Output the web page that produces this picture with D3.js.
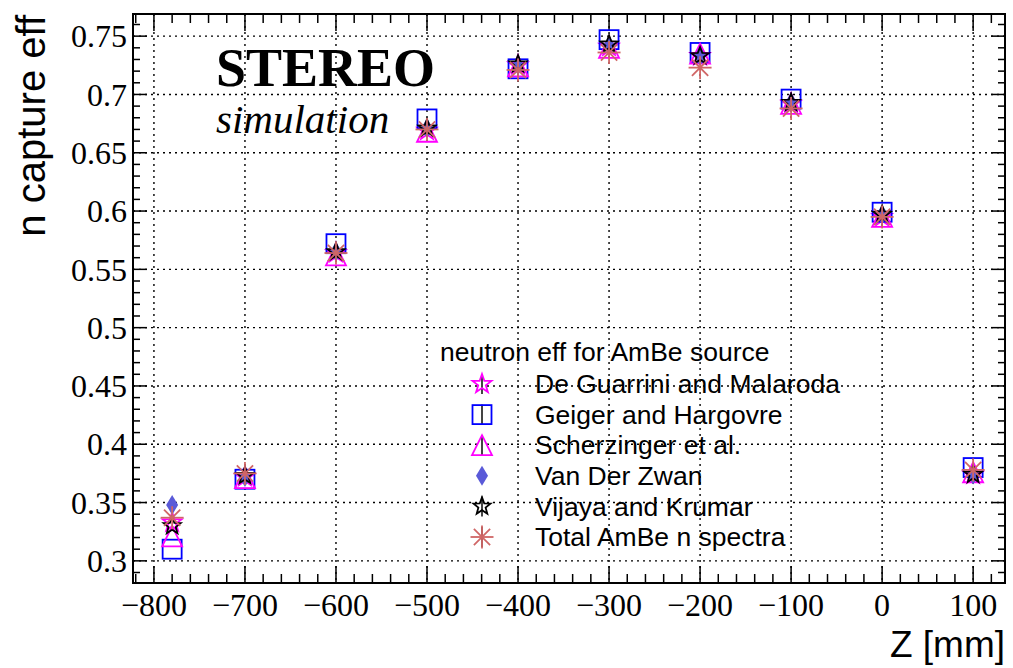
<!DOCTYPE html>
<html lang="en">
  <head>
    <meta charset="utf-8" />
    <script src="https://cdn.jsdelivr.net/npm/d3@7/dist/d3.min.js"></script>
    <title>n capture eff</title>
    <style>
      body { margin: 0; background: #fff; }
      .grid line { stroke: #000; stroke-width: 1.4; stroke-dasharray: 2, 4; }
      .legend text { font-family: "Liberation Sans", Arial, sans-serif; font-size: 26.5px; }
    </style>
  </head>
  <body>
    <div id="container"></div>

    <script type="module">
      // data
      const zPos = [-780, -700, -600, -500, -400, -300, -200, -100, 0, 100];
      const deGuarrini = [0.333, 0.372, 0.564, 0.669, 0.725, 0.741, 0.733, 0.692, 0.595, 0.374];
      const geiger = [0.310, 0.370, 0.572, 0.679, 0.722, 0.747, 0.736, 0.696, 0.599, 0.380];
      const scherzinger = [0.321, 0.371, 0.562, 0.668, 0.724, 0.740, 0.735, 0.692, 0.595, 0.376];
      const vanDerZwan = [0.348, 0.372, 0.565, 0.671, 0.725, 0.742, 0.733, 0.693, 0.597, 0.374];
      const vijaya = [0.330, 0.373, 0.565, 0.671, 0.726, 0.743, 0.733, 0.693, 0.597, 0.374];
      const totalSpectra = [0.337, 0.375, 0.564, 0.670, 0.721, 0.736, 0.723, 0.688, 0.595, 0.378];

      const seriesNames = [
        "De Guarrini and Malaroda",
        "Geiger and Hargovre",
        "Scherzinger et al.",
        "Van Der Zwan",
        "Vijaya and Krumar",
        "Total AmBe n spectra",
      ];
      const xTicks = [-800, -700, -600, -500, -400, -300, -200, -100, 0, 100];
      const yTicks = [0.3, 0.35, 0.4, 0.45, 0.5, 0.55, 0.6, 0.65, 0.7, 0.75];

      const width = 1013;
      const height = 668;
      const left = 133, right = 1005, top = 14, bottom = 583;
      const serif = "'Liberation Serif', 'Times New Roman', serif";
      const sans = "'Liberation Sans', Arial, sans-serif";

      const svg = d3.select("#container").append("svg").attr("width", width).attr("height", height);

      const x = d3.scaleLinear().domain([-823, 135]).range([left, right]);
      const y = d3.scaleLinear().domain([0.281, 0.769]).range([bottom, top]);

      // grid
      const grid = svg.append("g").attr("class", "grid");
      grid.selectAll(".gx").data(xTicks).enter().append("line")
        .attr("x1", (d) => x(d)).attr("x2", (d) => x(d)).attr("y1", top).attr("y2", bottom);
      grid.selectAll(".gy").data(yTicks).enter().append("line")
        .attr("y1", (d) => y(d)).attr("y2", (d) => y(d)).attr("x1", left).attr("x2", right);

      // ticks on all four sides
      const ax = svg.append("g").attr("stroke", "#000").attr("stroke-width", 1.5);
      const xMinor = d3.range(-820, 135, 20);
      const yMinor = d3.range(0.29, 0.7691, 0.01);
      xMinor.forEach((v) => {
        const major = Math.abs(v % 100) < 1e-6;
        const len = major ? 17 : 9;
        ax.append("line").attr("x1", x(v)).attr("x2", x(v)).attr("y1", bottom).attr("y2", bottom - len);
        ax.append("line").attr("x1", x(v)).attr("x2", x(v)).attr("y1", top).attr("y2", top + len);
      });
      yMinor.forEach((v) => {
        const major = Math.abs(Math.round(v * 100) % 5) === 0;
        const len = major ? 14 : 7;
        ax.append("line").attr("y1", y(v)).attr("y2", y(v)).attr("x1", left).attr("x2", left + len);
        ax.append("line").attr("y1", y(v)).attr("y2", y(v)).attr("x1", right).attr("x2", right - len);
      });

      svg.append("rect").attr("x", left).attr("y", top).attr("width", right - left).attr("height", bottom - top)
        .attr("fill", "none").attr("stroke", "#000").attr("stroke-width", 2);

      // tick labels
      svg.append("g").selectAll("text").data(xTicks).enter().append("text")
        .attr("font-family", serif).attr("font-size", 32)
        .attr("x", (d) => x(d)).attr("y", 616).attr("text-anchor", "middle")
        .text((d) => (d < 0 ? "\u2212" + Math.abs(d) : d));
      svg.append("g").selectAll("text").data(yTicks).enter().append("text")
        .attr("font-family", serif).attr("font-size", 32)
        .attr("x", 127).attr("y", (d) => y(d)).attr("dy", "0.35em")
        .attr("text-anchor", "end").text((d) => d3.format("")(d));

      // axis titles
      svg.append("text").attr("font-family", sans).attr("font-size", 37)
        .attr("x", right).attr("y", 657).attr("text-anchor", "end").text("Z [mm]");
      svg.append("text").attr("font-family", sans).attr("font-size", 40)
        .attr("transform", "translate(45,15) rotate(-90)")
        .attr("text-anchor", "end").text("n capture eff");

      // STEREO label
      svg.append("text").attr("x", 216).attr("y", 86).attr("font-family", serif)
        .attr("font-weight", "bold").attr("font-size", 54).text("STEREO");
      svg.append("text").attr("x", 216).attr("y", 133).attr("font-family", serif)
        .attr("font-style", "italic").attr("font-size", 41).text("simulation");

      // marker shapes
      function starPath(r, ri) {
        const pts = [];
        for (let i = 0; i < 10; i++) {
          const a = -Math.PI / 2 + (i * Math.PI) / 5;
          const rr = i % 2 === 0 ? r : ri;
          pts.push([rr * Math.cos(a), rr * Math.sin(a)]);
        }
        return "M" + pts.map((p) => p.join(",")).join("L") + "Z";
      }
      const markers = [
        { name: seriesNames[0], values: deGuarrini, draw: (g) => g.append("path").attr("d", starPath(10, 4)).attr("fill", "none").attr("stroke", "#ff00ff").attr("stroke-width", 1.8) },
        { name: seriesNames[1], values: geiger, draw: (g) => g.append("rect").attr("x", -9.5).attr("y", -9.5).attr("width", 19).attr("height", 19).attr("fill", "none").attr("stroke", "#0000ff").attr("stroke-width", 1.8) },
        { name: seriesNames[2], values: scherzinger, draw: (g) => g.append("path").attr("d", "M0,-10L10,10L-10,10Z").attr("fill", "none").attr("stroke", "#ff00ff").attr("stroke-width", 1.8) },
        { name: seriesNames[3], values: vanDerZwan, draw: (g) => g.append("path").attr("d", "M0,-10L6,0L0,10L-6,0Z").attr("fill", "#5a5ad8") },
        { name: seriesNames[4], values: vijaya, draw: (g) => g.append("path").attr("d", starPath(9, 3.8)).attr("fill", "none").attr("stroke", "#000").attr("stroke-width", 1.8) },
        {
          name: seriesNames[5], values: totalSpectra,
          draw: (g) => {
            const r = 11.5;
            [0, 45, 90, 135].forEach((a) => {
              const c = Math.cos((a * Math.PI) / 180) * r, s = Math.sin((a * Math.PI) / 180) * r;
              g.append("line").attr("x1", -c).attr("y1", -s).attr("x2", c).attr("y2", s).attr("stroke", "#d06666").attr("stroke-width", 1.8);
            });
          },
        },
      ];

      markers.forEach((m) => {
        svg.append("g").selectAll("g").data(m.values).enter().append("g")
          .attr("transform", (d, i) => `translate(${x(zPos[i])},${y(d)})`)
          .each(function () { m.draw(d3.select(this)); });
      });

      // legend
      const legend = svg.append("g").attr("class", "legend");
      legend.append("text").attr("x", 440).attr("y", 352).attr("dy", "0.35em").text("neutron eff for AmBe source");
      markers.forEach((m, i) => {
        const cy = 384 + i * 30.6;
        const g = legend.append("g").attr("transform", `translate(482,${cy})`);
        if (i !== 3) g.append("line").attr("x1", 0).attr("x2", 0).attr("y1", -10).attr("y2", 10).attr("stroke", "#444").attr("stroke-width", 2);
        m.draw(g);
        legend.append("text").attr("x", 535).attr("y", cy).attr("dy", "0.35em").text(m.name);
      });
    </script>
  </body>
</html>
